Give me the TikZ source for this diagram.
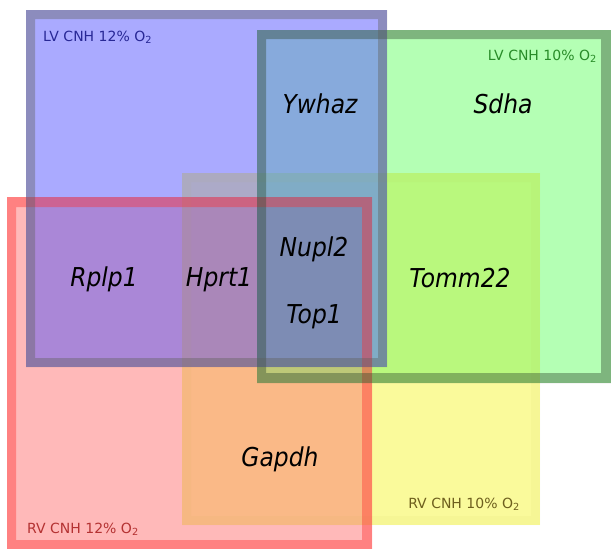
\documentclass[tikz,border=0pt]{standalone}
\usepackage{fontspec}
\setmainfont{DejaVu Sans}
\newfontfamily\genefont[FakeStretch=0.9]{DejaVu Sans}
% single sets
\definecolor{cY}{RGB}{250,250,155}
\definecolor{cR}{RGB}{255,185,185}
\definecolor{cG}{RGB}{180,255,180}
\definecolor{cB}{RGB}{170,170,255}
% pairs
\definecolor{cRY}{RGB}{250,185,135}
\definecolor{cGY}{RGB}{185,248,125}
\definecolor{cBR}{RGB}{170,135,215}
\definecolor{cBG}{RGB}{135,170,220}
\definecolor{cBY}{RGB}{172,170,200}
% triples
\definecolor{cBRY}{RGB}{170,135,185}
\definecolor{cBGY}{RGB}{128,172,198}
\definecolor{cGRY}{RGB}{190,200,120}
% all four
\definecolor{cBGRY}{RGB}{125,140,180}
% frames
\definecolor{fY}{RGB}{183,183,55}
\definecolor{fR}{RGB}{255,47,47}
\definecolor{fG}{RGB}{47,72,47}
\definecolor{fB}{RGB}{95,95,92}
% label text
\definecolor{lvtwelve}{RGB}{40,40,150}
\definecolor{lvten}{RGB}{40,140,40}
\definecolor{rvten}{RGB}{110,95,30}
\definecolor{rvtwelve}{RGB}{180,50,50}
\begin{document}
\begin{tikzpicture}[x=1pt,y=-1pt,
  gene/.style={font=\genefont\itshape\fontsize{26}{30}\selectfont, text=black, inner sep=0pt, anchor=base},
  setlabel/.style={font=\fontsize{14}{16}\selectfont, inner sep=0pt},
  frame/.style={fill opacity=0.4, even odd rule}]
\useasboundingbox (0,0) rectangle (611,549);
\fill[white] (0,0) rectangle (611,549);
% single sets (outer rectangles)
\fill[cY] (182,173) rectangle (540,525);
\fill[cR] (7,197) rectangle (372,549);
\fill[cG] (257,30) rectangle (611,383);
\fill[cB] (26,10) rectangle (387,367);
% pairwise overlaps
\fill[cRY] (182,197) rectangle (372,525);
\fill[cGY] (257,173) rectangle (540,383);
\fill[cBR] (26,197) rectangle (372,367);
\fill[cBG] (257,30) rectangle (387,367);
\fill[cBY] (182,173) rectangle (387,367);
% triple overlaps
\fill[cBRY] (182,197) rectangle (372,367);
\fill[cBGY] (257,173) rectangle (387,367);
\fill[cGRY] (257,197) rectangle (372,383);
% all four
\fill[cBGRY] (257,197) rectangle (372,367);
% frames
\fill[fY, fill opacity=0.05, even odd rule] (182,173) rectangle (540,525) (191,182) rectangle (531,516);
\fill[fR, frame] (7,197) rectangle (372,549) (16,207) rectangle (362,540);
\fill[fG, frame] (257,30) rectangle (611,383) (266,39) rectangle (601,373);
\fill[fB, frame] (26,10) rectangle (387,367) (35,19) rectangle (378,358);
% set labels
\node[setlabel, anchor=base west, text=lvtwelve] (lv12) at (43,41) {LV CNH 12\% O\textsubscript{2}};
\node[setlabel, anchor=base east, text=lvten] (lv10) at (597,60) {LV CNH 10\% O\textsubscript{2}};
\node[setlabel, anchor=base east, text=rvten] (rv10) at (520,508) {RV CNH 10\% O\textsubscript{2}};
\node[setlabel, anchor=base west, text=rvtwelve] (rv12) at (27,533) {RV CNH 12\% O\textsubscript{2}};
% genes
\node[gene] (ywhaz) at (320,113) {Ywhaz};
\node[gene] (sdha) at (503,113) {Sdha};
\node[gene] (rplp1) at (104,286) {Rplp1};
\node[gene] (hprt1) at (219,286) {Hprt1};
\node[gene] (nupl2) at (314,256) {Nupl2};
\node[gene] (top1) at (314,323) {Top1};
\node[gene] (tomm22) at (460,287) {Tomm22};
\node[gene] (gapdh) at (280,466) {Gapdh};
\end{tikzpicture}
\end{document}
